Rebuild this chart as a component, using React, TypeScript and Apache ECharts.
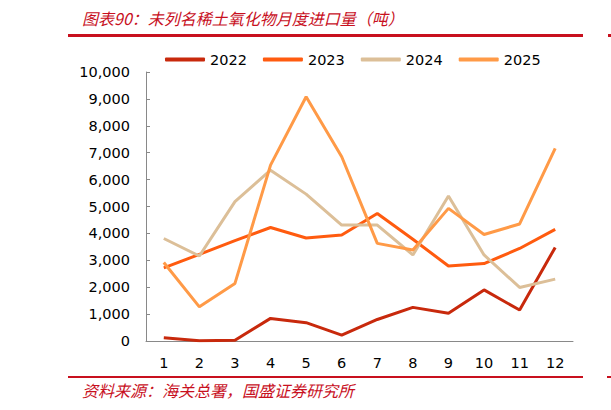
import React, { useEffect, useRef } from "react";
import * as echarts from "echarts";

const months = ["1", "2", "3", "4", "5", "6", "7", "8", "9", "10", "11", "12"];
const s2022 = [120, 10, 30, 840, 680, 220, 800, 1250, 1030, 1900, 1150, 3480];
const s2023 = [2720, 3220, 3730, 4220, 3830, 3940, 4740, 3780, 2790, 2880, 3440, 4150];
const s2024 = [3810, 3160, 5180, 6350, 5460, 4310, 4310, 3200, 5390, 3200, 1990, 2300];
const s2025 = [2920, 1270, 2140, 6540, 9080, 6850, 3630, 3380, 4930, 3960, 4350, 7160];
const seriesNames = ["2022", "2023", "2024", "2025"];
const seriesColors = ["#c8290c", "#ff5b0f", "#dcbf98", "#ff9a47"];
const yTicks = { min: 0, max: 10000, interval: 1000 };
const titleText = "图表90：未列名稀土氧化物月度进口量（吨）";
const sourceText = "资料来源：海关总署，国盛证券研究所";

export default function App() {
  const ref = useRef<HTMLDivElement>(null);
  useEffect(() => {
    const chart = echarts.init(ref.current!, null, { renderer: "svg" });
    const data = [s2022, s2023, s2024, s2025];
    const red = "#c8101e";
    chart.setOption({
      animation: false,
      backgroundColor: "#fff",
      textStyle: { fontFamily: "DejaVu Sans" },
      legend: {
        data: seriesNames,
        left: 160,
        top: 47,
        itemWidth: 40,
        itemHeight: 4,
        itemGap: 16,
        icon: "roundRect",
        textStyle: { fontSize: 14.5, color: "#000", fontFamily: "DejaVu Sans" },
      },
      grid: { left: 146, right: 38, top: 72, bottom: 69 },
      xAxis: {
        type: "category",
        data: months,
        boundaryGap: true,
        axisLine: { lineStyle: { color: "#898989", width: 1 } },
        axisTick: { inside: true, length: 5, lineStyle: { color: "#898989" } },
        axisLabel: { color: "#000", fontSize: 14.5, margin: 14, fontFamily: "DejaVu Sans" },
      },
      yAxis: {
        type: "value",
        min: yTicks.min,
        max: yTicks.max,
        interval: yTicks.interval,
        splitLine: { show: false },
        axisLine: { show: true, lineStyle: { color: "#898989", width: 1 } },
        axisTick: { show: true, inside: true, length: 4, lineStyle: { color: "#898989" } },
        axisLabel: {
          color: "#000",
          fontSize: 14.5,
          margin: 16,
          fontFamily: "DejaVu Sans",
          formatter: (v: number) => v.toLocaleString("en-US"),
        },
      },
      series: seriesNames.map((n, i) => ({
        name: n,
        type: "line",
        data: data[i],
        symbol: "none",
        color: seriesColors[i],
        lineStyle: { width: 3, color: seriesColors[i] },
      })),
      graphic: [
        {
          type: "text",
          left: 82,
          top: 10,
          style: {
            text: titleText,
            fontSize: 16,
            fontStyle: "italic",
            fontFamily: "Noto Sans CJK SC",
            fill: red,
          },
        },
        { type: "rect", shape: { x: 68, y: 34, width: 515, height: 3 }, style: { fill: red } },
        { type: "rect", shape: { x: 608, y: 34, width: 3, height: 3 }, style: { fill: red } },
        { type: "rect", shape: { x: 68, y: 376, width: 515, height: 2 }, style: { fill: red } },
        { type: "rect", shape: { x: 607, y: 376, width: 4, height: 2 }, style: { fill: red } },
        {
          type: "text",
          left: 82,
          top: 382,
          style: {
            text: sourceText,
            fontSize: 16,
            fontStyle: "italic",
            fontFamily: "Noto Sans CJK SC",
            fill: red,
          },
        },
      ],
    });
    return () => chart.dispose();
  }, []);
  return <div ref={ref} style={{ width: 611, height: 410, position: "absolute", left: 0, top: 0 }} />;
}
